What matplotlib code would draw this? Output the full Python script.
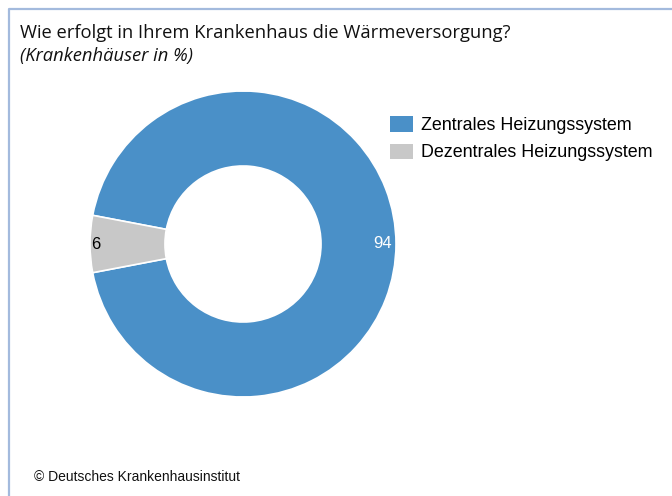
import matplotlib
matplotlib.use("Agg")
import matplotlib.pyplot as plt
import numpy as np
from matplotlib.lines import Line2D
from matplotlib.patches import Patch

# Anteile der Krankenhäuser nach Art der Wärmeversorgung
categories = ["Zentrales Heizungssystem", "Dezentrales Heizungssystem"]
values = [94, 6]
colors = ["#4A90C8", "#C8C8C8"]
label_colors = ["white", "black"]

W, H = 672, 496
fig = plt.figure(figsize=(W / 100, H / 100), dpi=100)

def fx(px):
    return px / W

def fy(py):
    return 1 - py / H

# light blue frame on the left and top
fig.add_artist(Line2D([fx(8.5), fx(8.5), 1], [0, fy(8.5), fy(8.5)],
                      color="#A3BADD", lw=1.6, transform=fig.transFigure))

fig.text(fx(20), fy(38), "Wie erfolgt in Ihrem Krankenhaus die Wärmeversorgung?",
         fontsize=13.2, family="Open Sans", color="#111111", va="baseline")
fig.text(fx(20), fy(61), "(Krankenhäuser in %)", fontsize=13.2, family="Open Sans",
         style="italic", color="#111111", va="baseline")

# donut
cx, cy, r = 243, 244, 153
ax = fig.add_axes([fx(cx - r), fy(cy + r), 2 * r / W, 2 * r / H])
total = sum(values)
wedges, _ = ax.pie(values, colors=colors, startangle=180 + 360 * values[1] / total / 2,
                   counterclock=True, radius=1,
                   wedgeprops=dict(width=0.49, edgecolor="white", linewidth=1.2))
ax.set_xlim(-1, 1)
ax.set_ylim(-1, 1)
ax.set_aspect("equal")
ax.axis("off")

label_r = [0.915, 0.96]
for w, v, lc, lr in zip(wedges, values, label_colors, label_r):
    ang = np.deg2rad((w.theta1 + w.theta2) / 2)
    ax.text(lr * np.cos(ang), lr * np.sin(ang), str(v), ha="center", va="center",
            fontsize=12, family="Liberation Sans", color=lc)

handles = [Patch(facecolor=c, edgecolor="none") for c in colors]
fig.legend(handles, categories, loc="upper left", bbox_to_anchor=(fx(374), fy(100)),
           frameon=False, prop=dict(family="Liberation Sans", size=12.9),
           handlelength=1.3, handleheight=0.95, handletextpad=0.45, labelspacing=0.53)

fig.text(fx(34), fy(481), "© Deutsches Krankenhausinstitut", fontsize=10,
         family="Liberation Sans", color="#111111", va="baseline")

fig.savefig("out.png", dpi=100)
